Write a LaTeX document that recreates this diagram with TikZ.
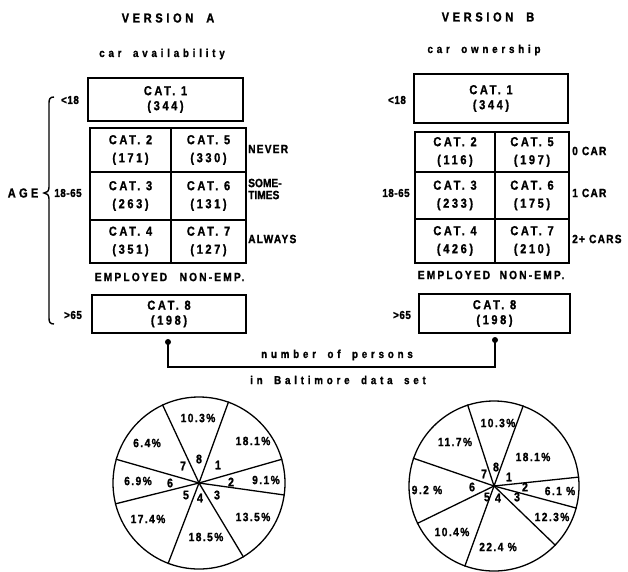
\documentclass[tikz,border=0pt]{standalone}
\usepackage{fontspec}
\newfontfamily\lb{Liberation Sans}[UprightFont=* Bold, FakeStretch=0.85, FakeBold=1.2]
\newcommand\labfont[3]{\lb\fontsize{#1}{#3}\selectfont\addfontfeature{LetterSpace=#2}}
\begin{document}
\begin{tikzpicture}[x=1pt,y=-1pt,
 cellbox/.style={draw,line width=1.4pt,inner sep=0pt,align=center,font=\labfont{13}{20}{18}},
 catbox/.style={draw,line width=1.4pt,inner sep=0pt,align=center,font=\labfont{13}{20}{15}},
 title/.style={inner sep=0pt,font=\labfont{13}{28}{14}},
 sub/.style={inner sep=0pt,font=\labfont{11.5}{33}{13}},
 side/.style={inner sep=0pt,anchor=west,align=left,font=\labfont{12}{10}{12}},
 emp/.style={inner sep=0pt,font=\labfont{12}{18}{13}},
 age/.style={inner sep=0pt,font=\labfont{11.5}{5}{13}},
 pielab/.style={inner sep=0pt,font=\labfont{12}{12}{12}},
 pienum/.style={inner sep=0pt,font=\labfont{12.5}{0}{12}},
 pie/.style={circle,draw,line width=1.3pt,inner sep=0pt},
 ray/.style={line width=1.3pt},
 dot/.style={circle,fill,inner sep=0pt,minimum size=6pt},
 conn/.style={line width=1.4pt}
]
\useasboundingbox (0,0) rectangle (628,571);

% ---------- Version A ----------
\node[title] (tA) at (168,18) {VERSION\quad A};
\node[sub] (sA) at (162,54) {car\quad availability};
\node[catbox,minimum width=155pt,minimum height=43pt] (a1) at (165.5,99.5) {CAT. 1\\(344)};
\node[cellbox,minimum width=81pt,minimum height=44pt] (a2) at (130.5,150) {CAT. 2\\(171)};
\node[cellbox,minimum width=75pt,minimum height=44pt] (a5) at (208.5,150) {CAT. 5\\(330)};
\node[cellbox,minimum width=81pt,minimum height=48pt] (a3) at (130.5,196) {CAT. 3\\(263)};
\node[cellbox,minimum width=75pt,minimum height=48pt] (a6) at (208.5,196) {CAT. 6\\(131)};
\node[cellbox,minimum width=81pt,minimum height=43pt] (a4) at (130.5,241.5) {CAT. 4\\(351)};
\node[cellbox,minimum width=75pt,minimum height=43pt] (a7) at (208.5,241.5) {CAT. 7\\(127)};
\node[catbox,minimum width=154pt,minimum height=38pt] (a8) at (169,314) {CAT. 8\\(198)};
\node[side] (nv) at (248,149) {NEVER};
\node[side,font=\labfont{12}{0}{12}] (st) at (248,189) {SOME-\\TIMES};
\node[side] (al) at (248,239) {ALWAYS};
\node[emp] (eA) at (131,277) {EMPLOYED};
\node[emp] (nA) at (212,277) {NON-EMP.};
\node[title,font=\labfont{13}{25}{14}] (age) at (23,193) {AGE};
\node[age] (yA1) at (70,100) {<18};
\node[age] (yA2) at (68,193) {18-65};
\node[age] (yA3) at (73,315) {>65};
\draw[line width=1.4pt] (54,97) .. controls (50,97) and (49,99) .. (49,103) -- (49,187)
  .. controls (49,191) and (47,193) .. (44,193) .. controls (47,193) and (49,195) .. (49,199)
  -- (49,318) .. controls (49,322) and (50,324) .. (54,324);

% ---------- Version B ----------
\node[title] (tB) at (488,17) {VERSION\quad B};
\node[sub] (sB) at (484,50) {car\quad ownership};
\node[catbox,minimum width=154pt,minimum height=49pt] (b1) at (491,98.5) {CAT. 1\\(344)};
\node[cellbox,minimum width=80pt,minimum height=40pt] (b2) at (455,152) {CAT. 2\\(116)};
\node[cellbox,minimum width=74pt,minimum height=40pt] (b5) at (532,152) {CAT. 5\\(197)};
\node[cellbox,minimum width=80pt,minimum height=47pt] (b3) at (455,195.5) {CAT. 3\\(233)};
\node[cellbox,minimum width=74pt,minimum height=47pt] (b6) at (532,195.5) {CAT. 6\\(175)};
\node[cellbox,minimum width=80pt,minimum height=44pt] (b4) at (455,241) {CAT. 4\\(426)};
\node[cellbox,minimum width=74pt,minimum height=44pt] (b7) at (532,241) {CAT. 7\\(210)};
\node[catbox,minimum width=151pt,minimum height=39pt] (b8) at (494.5,313.5) {CAT. 8\\(198)};
\node[side] (c0) at (572,151) {0 CAR};
\node[side] (c1) at (572,193) {1 CAR};
\node[side] (c2) at (572,239) {2+ CARS};
\node[emp] (eB) at (454,275) {EMPLOYED};
\node[emp] (nB) at (532,275) {NON-EMP.};
\node[age] (yB1) at (397,100) {<18};
\node[age] (yB2) at (396,193) {18-65};
\node[age] (yB3) at (402,315) {>65};

% ---------- connector ----------
\node[dot] (d1) at (168,342) {};
\node[dot] (d2) at (495,340) {};
\coordinate (k1) at (168,367);
\coordinate (k2) at (495,367);
\draw[conn] (d1.center) -- (k1) -- (k2) -- (d2.center);
\node[sub] (np) at (337,355) {number\quad of\quad persons};
\node[sub] (bd) at (338,380) {in\quad Baltimore\quad data\quad set};

% ---------- Pie A ----------
\node[pie,minimum size=172pt] (pa) at (199,483) {};
\foreach \a in {115,70,16,-8,-59,-111,194,164}
  \draw[ray] (pa.center) -- (pa.\a);
\node[pielab] at (198,418) {10.3\%};
\node[pielab] at (253,441) {18.1\%};
\node[pielab] at (266,480) {9.1\%};
\node[pielab] at (253,517) {13.5\%};
\node[pielab] at (206,537) {18.5\%};
\node[pielab] at (148,519) {17.4\%};
\node[pielab] at (138,481) {6.9\%};
\node[pielab] at (147,443) {6.4\%};
\node[pienum] at (199,459) {8};
\node[pienum] at (218,465) {1};
\node[pienum] at (231,482) {2};
\node[pienum] at (217,495) {3};
\node[pienum] at (200,498) {4};
\node[pienum] at (186,495) {5};
\node[pienum] at (170,483) {6};
\node[pienum] at (183,466) {7};

% ---------- Pie B ----------
\node[pie,minimum size=170pt] (pb) at (494,486) {};
\foreach \a in {108,70,6,-15,-44,-110,206,161}
  \draw[ray] (pb.center) -- (pb.\a);
\node[pielab] at (498,423) {10.3\%};
\node[pielab] at (533,457) {18.1\%};
\node[pielab] at (560,491) {6.1 \%};
\node[pielab] at (552,517) {12.3\%};
\node[pielab] at (498,547) {22.4 \%};
\node[pielab] at (452,532) {10.4\%};
\node[pielab] at (427,490) {9.2 \%};
\node[pielab] at (455,442) {11.7\%};
\node[pienum] at (496,467) {8};
\node[pienum] at (509,477) {1};
\node[pienum] at (525,487) {2};
\node[pienum] at (517,497) {3};
\node[pienum] at (498,498) {4};
\node[pienum] at (487,497) {5};
\node[pienum] at (472,487) {6};
\node[pienum] at (484,474) {7};
\end{tikzpicture}
\end{document}
